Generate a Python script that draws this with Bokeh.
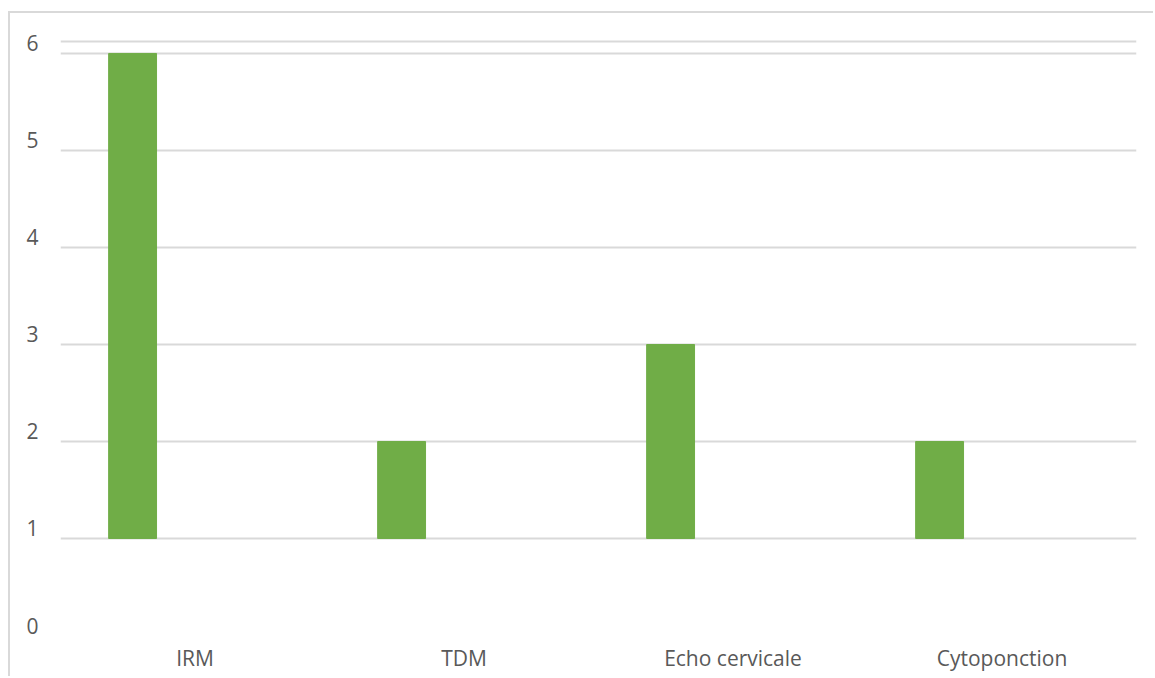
from bokeh.plotting import figure
from bokeh.models import Range1d, FactorRange, LinearAxis, FixedTicker, Span, ColumnDataSource
from bokeh.transform import dodge
from bokeh.embed import file_html
from bokeh.resources import INLINE

categories = ["IRM", "TDM", "Echo cervicale", "Cytoponction"]
values = [6, 2, 3, 2]
y_tick_values = [0, 1, 2, 3, 4, 5, 6]
grid_values = [1, 2, 3, 4, 5, 6]
bar_base = 1

GRID = "#d9d9d9"
TXT = "#595959"
FONT = "Open Sans"
FS = "21px"

px_per_unit = 97.0
y_lo, y_hi = -0.0515, 6.412
label_shift = 10 / px_per_unit

src = ColumnDataSource(dict(cat=categories, val=values, base=[bar_base] * len(values)))

p = figure(width=1145, height=665,
           x_range=FactorRange(*categories, range_padding=0),
           y_range=Range1d(y_lo, y_hi),
           output_backend="svg", toolbar_location=None,
           y_axis_location=None,
           min_border_left=50, min_border_right=19,
           min_border_top=0, min_border_bottom=38)
p.styles = {"margin-left": "8px", "margin-top": "11px",
            "border-left": "2px solid #d9d9d9", "border-top": "2px solid #d9d9d9"}

p.extra_y_ranges = {"lab": Range1d(y_lo - label_shift, y_hi - label_shift)}
yax = LinearAxis(y_range_name="lab", ticker=FixedTicker(ticks=y_tick_values))
yax.axis_line_color = None
yax.major_tick_line_color = None
yax.minor_tick_line_color = None
yax.major_tick_out = 0
yax.major_tick_in = 0
yax.major_label_standoff = 22
yax.major_label_text_font = FONT
yax.major_label_text_font_size = FS
yax.major_label_text_color = TXT
p.add_layout(yax, "left")

xax = p.xaxis[0]
xax.axis_line_color = None
xax.major_tick_line_color = None
xax.minor_tick_line_color = None
xax.major_tick_out = 0
xax.major_tick_in = 0
xax.major_label_standoff = 3
xax.major_label_text_font = FONT
xax.major_label_text_font_size = FS
xax.major_label_text_color = TXT

p.xgrid.grid_line_color = None
p.ygrid.ticker = FixedTicker(ticks=grid_values)
p.ygrid.grid_line_color = GRID
p.ygrid.grid_line_width = 2

p.add_layout(Span(location=6 + 12 / px_per_unit, dimension="width",
                  line_color=GRID, line_width=2))

p.vbar(x=dodge("cat", -0.232, range=p.x_range), width=0.178,
       bottom="base", top="val", source=src, color="#70ad47")

p.outline_line_color = None
p.background_fill_color = "white"
p.border_fill_color = "white"

open("out.html", "w").write(file_html(p, INLINE))
